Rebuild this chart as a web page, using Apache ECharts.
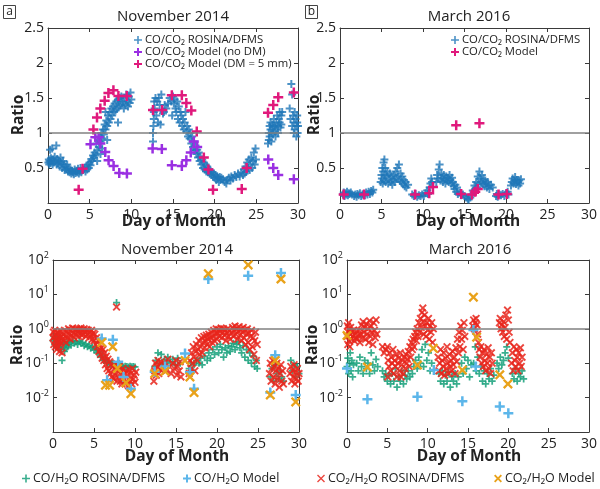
<!DOCTYPE html>
<html><head><meta charset="utf-8">
<script src="https://cdn.jsdelivr.net/npm/echarts@6/dist/echarts.min.js"></script>
<style>html,body{margin:0;padding:0;background:#fff}#c{width:600px;height:489px}</style>
</head><body><div id="c"></div>
<script>
// ---------------- data ----------------
const dayTicks = [0, 5, 10, 15, 20, 25, 30];
const linTicks = [0.5, 1, 1.5, 2, 2.5];
const logTicks = [0.01, 0.1, 1, 10, 100];

// (a) November 2014, CO/CO2
const novCOCO2Rosina = [[0.05,0.58],[0.1,0.62],[0.15,0.55],[0.2,0.6],[0.25,0.76],[0.3,0.57],[0.35,0.64],[0.4,0.6],[0.5,0.78],[0.55,0.55],[0.6,0.62],[0.7,0.58],[0.8,0.66],[0.9,0.6],[1.0,0.82],[1.05,0.55],[1.1,0.63],[1.2,0.57],[1.3,0.6],[1.4,0.52],[1.5,0.65],[1.6,0.58],[1.7,0.5],[1.8,0.6],[1.9,0.55],[2.0,0.47],[2.1,0.52],[2.2,0.48],[2.3,0.55],[2.4,0.45],[2.5,0.5],[2.6,0.44],[2.7,0.48],[2.8,0.42],[2.9,0.46],[3.0,0.44],[3.1,0.41],[3.2,0.48],[3.3,0.43],[3.4,0.46],[3.5,0.44],[3.6,0.49],[3.7,0.42],[3.8,0.45],[3.9,0.5],[4.0,0.44],[4.2,0.47],[4.4,0.5],[4.5,0.45],[4.6,0.52],[4.7,0.48],[4.8,0.55],[4.9,0.5],[5.0,0.58],[5.1,0.54],[5.2,0.63],[5.3,0.6],[5.4,0.68],[5.5,0.65],[5.6,0.72],[5.7,0.68],[5.8,0.85],[5.9,0.75],[5.9,0.6],[6.0,0.9],[6.1,0.8],[6.2,0.95],[6.3,0.88],[6.3,0.7],[6.4,1.0],[6.5,0.92],[6.5,0.78],[6.6,1.05],[6.7,0.98],[6.8,1.12],[6.9,1.05],[6.9,1.3],[7.0,1.18],[7.1,1.1],[7.1,0.9],[7.2,1.25],[7.3,1.15],[7.4,1.3],[7.5,1.2],[7.6,1.35],[7.7,1.25],[7.8,1.38],[7.9,1.3],[8.0,1.42],[8.1,1.32],[8.2,1.45],[8.3,1.35],[8.4,1.48],[8.4,1.15],[8.5,1.38],[8.6,1.5],[8.7,1.4],[8.8,1.52],[8.9,1.42],[9.0,1.45],[9.1,1.35],[9.2,1.5],[9.3,1.4],[9.4,1.55],[9.5,1.45],[9.6,1.38],[9.7,1.52],[9.8,1.43],[9.9,1.58],[10.0,1.48],
[12.6,0.88],[12.6,1.0],[12.65,1.1],[12.7,1.2],[12.7,1.3],[12.75,1.45],[12.8,1.35],[12.9,1.5],[13.0,1.25],[13.1,1.45],[13.2,1.15],[13.3,1.5],[13.4,1.4],[13.5,1.12],[13.6,1.55],[13.7,1.32],[13.8,1.28],[13.9,1.3],[14.0,1.4],[14.2,1.35],[14.4,1.42],[14.6,1.5],[14.8,1.45],[14.9,1.25],[15.0,1.52],[15.1,1.42],[15.2,1.48],[15.3,1.35],[15.4,1.3],[15.5,1.45],[15.6,1.2],[15.7,1.38],[15.8,1.15],[15.9,1.3],[16.0,1.25],[16.1,1.1],[16.2,1.2],[16.3,1.05],[16.4,1.15],[16.5,1.3],[16.6,1.02],[16.7,1.1],[16.8,0.95],[16.9,1.05],[17.0,0.92],[17.1,1.0],[17.2,0.85],[17.3,0.95],[17.4,0.8],[17.5,0.88],[17.6,0.75],[17.7,0.82],[17.8,0.7],[17.9,0.76],[18.0,0.65],[18.1,0.72],[18.2,0.6],[18.3,0.66],[18.4,0.55],[18.5,0.62],[18.6,0.5],[18.7,0.58],[18.8,0.48],[18.9,0.55],[19.0,0.45],[19.1,0.52],[19.2,0.44],[19.3,0.48],[19.4,0.42],[19.5,0.46],[19.6,0.4],[19.7,0.44],[19.8,0.38],[19.9,0.42],[20.0,0.36],[20.1,0.4],[20.2,0.33],[20.3,0.38],[20.4,0.35],[20.5,0.3],[20.6,0.37],[20.7,0.33],[20.8,0.36],[21.0,0.34],[21.2,0.3],[21.4,0.28],[21.5,0.33],[21.7,0.36],[21.9,0.32],[22.0,0.38],[22.2,0.35],[22.4,0.4],[22.6,0.37],[22.8,0.42],[23.0,0.38],[23.2,0.44],[23.4,0.4],[23.5,0.48],[23.6,0.42],[23.7,0.52],[23.8,0.45],[23.9,0.58],[24.0,0.5],[24.1,0.62],[24.2,0.47],[24.3,0.55],[24.4,0.65],[24.5,0.5],[24.6,0.6],[24.7,0.72],[24.8,0.55],[24.9,0.78],[24.95,0.62],
[26.4,0.85],[26.5,1.0],[26.5,0.9],[26.6,1.1],[26.6,0.95],[26.7,1.05],[26.7,1.15],[26.8,0.88],[26.8,1.0],[26.9,1.12],[27.0,0.98],[27.0,1.08],[27.1,1.2],[27.2,1.02],[27.2,1.1],[27.3,0.95],[27.4,1.15],[27.4,1.05],[27.5,1.25],[27.6,1.1],[27.6,1.0],[27.7,1.2],[27.8,1.15],[27.8,1.3],[27.9,1.08],[28.0,1.25],[28.0,1.12],[28.1,1.3],
[29.0,1.35],[29.1,1.2],[29.2,1.7],[29.3,1.55],[29.3,1.1],[29.4,1.25],[29.5,1.0],[29.5,1.15],[29.6,1.3],[29.6,1.05],[29.7,1.2],[29.8,1.1],[29.8,0.95],[29.9,1.15],[29.9,1.25],[30.0,1.1],[29.95,1.0]];
const novCOCO2ModelNoDM = [[5.1,0.84],[5.68,0.94],[6.07,0.94],[6.28,0.85],[6.87,0.73],[7.27,0.61],[7.87,0.53],[8.55,0.43],[9.47,0.42],[12.55,0.78],[13.66,0.77],[14.86,0.54],[16.06,0.53],[16.6,0.61],[17.13,0.72],[17.5,0.88],[17.9,0.8],[26.43,0.62],[27.03,0.5],[27.63,0.4],[29.5,0.34]];
const novCOCO2ModelDM = [[3.68,0.19],[4.15,0.49],[5.45,1.05],[5.88,1.22],[6.28,1.35],[6.8,1.46],[7.25,1.57],[7.85,1.61],[8.45,1.53],[9.45,1.53],[12.6,1.33],[13.7,1.33],[14.86,1.54],[16.06,1.54],[16.6,1.43],[17.2,1.32],[17.85,1.02],[18.7,0.65],[19.25,0.48],[19.8,0.19],[23.25,0.2],[23.84,0.5],[26.4,1.29],[27.03,1.4],[27.63,1.51],[29.5,1.58]];

// (b) March 2016, CO/CO2
const marCOCO2Rosina = [[0.35,0.12],[0.45,0.15],[0.55,0.1],[0.65,0.14],[0.75,0.12],[0.85,0.16],[0.95,0.11],[1.05,0.14],[1.15,0.13],[1.3,0.15],[1.45,0.12],[1.7,0.1],[1.85,0.12],[2.0,0.09],[2.1,0.13],[2.25,0.11],[2.4,0.14],[2.55,0.1],[2.7,0.12],[2.85,0.13],[3.0,0.11],[3.15,0.15],[3.3,0.12],[3.45,0.16],[3.6,0.13],[3.75,0.17],[3.9,0.15],[4.0,0.19],
[4.9,0.3],[5.0,0.4],[5.05,0.35],[5.1,0.5],[5.15,0.28],[5.2,0.45],[5.25,0.58],[5.3,0.32],[5.35,0.62],[5.4,0.4],[5.45,0.5],[5.5,0.3],[5.6,0.38],[5.7,0.45],[5.8,0.28],[5.9,0.35],[6.0,0.42],[6.1,0.3],[6.2,0.38],[6.3,0.26],[6.4,0.33],[6.5,0.4],[6.6,0.3],[6.7,0.45],[6.8,0.35],[6.9,0.5],[7.0,0.38],[7.1,0.55],[7.2,0.32],[7.3,0.42],[7.4,0.3],[7.5,0.38],[7.6,0.27],[7.7,0.33],[7.8,0.24],[7.9,0.3],[8.0,0.22],[8.2,0.26],
[8.7,0.12],[8.9,0.1],[9.1,0.13],[9.3,0.09],[9.5,0.11],[9.7,0.1],[9.9,0.12],[10.1,0.1],[10.3,0.14],[10.5,0.18],[10.6,0.13],[10.8,0.22],[10.9,0.28],[11.0,0.35],[11.1,0.3],
[11.6,0.3],[11.7,0.4],[11.8,0.35],[11.9,0.48],[12.0,0.55],[12.1,0.32],[12.2,0.42],[12.3,0.36],[12.4,0.3],[12.5,0.4],[12.6,0.34],[12.7,0.28],[12.8,0.38],[12.9,0.32],[13.0,0.36],[13.1,0.3],[13.2,0.4],[13.3,0.33],[13.4,0.28],[13.5,0.36],[13.6,0.3],[13.7,0.24],[13.8,0.2],[13.9,0.26],[14.0,0.16],[14.1,0.22],[14.2,0.13],[14.4,0.15],[14.6,0.11],[14.8,0.12],[15.0,0.1],[15.2,0.08],[15.4,0.06],[15.5,0.05],[15.7,0.08],
[15.9,0.12],[16.0,0.18],[16.1,0.15],[16.2,0.25],[16.3,0.2],[16.4,0.3],[16.5,0.22],[16.6,0.38],[16.7,0.28],[16.8,0.45],[16.9,0.35],[17.0,0.3],[17.1,0.4],[17.2,0.27],[17.3,0.34],[17.4,0.24],[17.5,0.32],[17.6,0.28],[17.7,0.22],[17.8,0.3],[17.9,0.25],[18.0,0.2],[18.2,0.26],[18.4,0.22],
[18.8,0.1],[18.9,0.13],[19.0,0.09],[19.2,0.12],[19.4,0.11],[19.6,0.13],[19.8,0.1],[20.0,0.14],[20.2,0.16],[20.3,0.12],
[20.6,0.25],[20.7,0.3],[20.8,0.35],[20.9,0.28],[21.0,0.32],[21.1,0.37],[21.2,0.27],[21.3,0.33],[21.4,0.3],[21.5,0.25],[21.6,0.32],[21.7,0.28],[21.8,0.34]];
const marCOCO2Model = [[0.45,0.12],[2.9,0.12],[9.05,0.12],[10.75,0.14],[11.2,0.23],[14.0,1.11],[14.6,0.13],[15.9,0.12],[16.3,0.16],[16.6,0.2],[16.8,1.14],[19.1,0.12],[20.1,0.13]];

// (c) November 2014, X/H2O (log)
const novCOH2ORosina = [[0.0,0.45],[0.1,0.6],[0.2,0.35],[0.3,0.5],[0.4,0.3],[0.5,0.55],[0.6,0.4],[0.7,0.28],[0.8,0.5],[0.9,0.35],[1.0,0.25],[1.1,0.12],[1.2,0.4],[1.3,0.3],[1.4,0.22],[1.5,0.35],[1.6,0.27],[1.7,0.4],[1.8,0.3],[1.9,0.35],[2.0,0.42],[2.2,0.33],[2.4,0.45],[2.6,0.38],[2.8,0.42],[3.0,0.35],[3.2,0.44],[3.4,0.38],[3.6,0.4],[3.8,0.32],[4.0,0.36],[4.2,0.3],[4.4,0.33],[4.6,0.27],[4.8,0.3],[5.0,0.24],[5.2,0.27],[5.4,0.2],[5.6,0.22],[5.8,0.15],[6.0,0.17],[6.2,0.12],[6.4,0.13],[6.6,0.1],[6.8,0.11],[7.0,0.09],[7.2,0.1],[7.4,0.085],[7.6,0.09],[7.8,0.08],[8.0,0.085],[8.2,0.08],[8.4,0.083],[8.6,0.078],[8.8,0.082],[9.0,0.08],[9.2,0.077],[9.4,0.082],[9.6,0.079],[9.8,0.08],[10.0,0.078],[7.75,5.8],
[12.4,0.08],[12.6,0.12],[12.8,0.2],[13.0,0.1],[13.2,0.18],[13.4,0.09],[13.6,0.13],[13.8,0.1],[14.0,0.15],[14.3,0.11],[14.6,0.13],[14.9,0.09],[15.2,0.14],[15.5,0.1],[16.6,0.07],[16.8,0.1],[17.0,0.06],[17.2,0.09],[17.5,0.12],[17.8,0.1],[18.0,0.14],[18.2,0.09],[18.5,0.16],[18.8,0.12],[19.0,0.2],[19.2,0.14],[19.5,0.25],[19.7,0.18],[20.0,0.3],[20.2,0.2],[20.4,0.35],[20.6,0.25],[20.8,0.15],[21.0,0.28],[21.2,0.2],[21.4,0.32],[21.6,0.22],[21.8,0.3],[22.0,0.38],[22.2,0.25],[22.4,0.35],[22.6,0.42],[22.8,0.28],[23.0,0.2],[23.2,0.32],[23.4,0.15],[23.6,0.25],[23.8,0.12],[24.0,0.2],[24.2,0.1],[24.4,0.16],[24.6,0.08],[24.8,0.12],[24.9,0.07],
[26.5,0.04],[26.7,0.07],[26.9,0.03],[27.1,0.09],[27.3,0.05],[27.5,0.035],[27.7,0.06],[27.9,0.04],[28.1,0.03],[29.0,0.12],[29.2,0.06],[29.4,0.09],[29.6,0.04],[29.8,0.08],[30.0,0.05]];
const novCO2H2ORosina = [[0.0,0.55],[0.05,0.8],[0.1,0.35],[0.15,0.6],[0.2,0.9],[0.25,0.45],[0.3,0.3],[0.35,0.7],[0.4,0.5],[0.45,0.25],[0.5,0.8],[0.55,0.4],[0.6,0.6],[0.65,0.3],[0.7,0.75],[0.75,0.45],[0.8,0.22],[0.85,0.55],[0.9,0.35],[0.95,0.85],[1.0,0.4],[1.05,0.6],[1.1,0.2],[1.15,0.5],[1.2,0.7],
[1.3,0.45],[1.4,0.9],[1.5,0.6],[1.6,0.4],[1.7,0.8],[1.8,0.55],[1.9,1.0],[2.0,0.7],[2.1,0.5],[2.2,0.9],[2.3,0.65],[2.4,1.05],[2.5,0.75],[2.6,0.55],[2.7,0.95],[2.8,0.7],[2.9,1.0],[3.0,0.8],[3.1,0.6],[3.2,0.95],[3.3,0.75],[3.4,1.05],[3.5,0.65],[3.6,0.9],[3.7,0.7],[3.8,1.0],[3.9,0.8],[4.0,0.6],[4.1,0.95],[4.2,0.7],[4.3,0.9],[4.4,0.55],[4.5,0.8],[4.6,0.65],[4.7,0.9],[4.8,0.5],[4.9,0.75],[5.0,0.45],[5.1,0.7],[5.2,0.35],
[5.3,0.55],[5.4,0.3],[5.5,0.45],[5.6,0.22],[5.7,0.35],[5.8,0.18],[5.9,0.28],[6.0,0.14],[6.1,0.25],[6.2,0.12],[6.3,0.2],[6.4,0.09],[6.5,0.16],[6.6,0.07],[6.7,0.13],[6.8,0.06],[6.9,0.11],[7.0,0.05],[7.1,0.09],[7.2,0.04],[7.3,0.08],[7.4,0.035],[7.5,0.07],[7.6,0.045],[7.7,0.1],[7.8,0.03],[7.9,0.06],[7.75,4.3],
[8.0,0.04],[8.1,0.08],[8.2,0.03],[8.3,0.055],[8.4,0.025],[8.5,0.07],[8.6,0.035],[8.7,0.05],[8.8,0.025],[8.9,0.06],[9.0,0.03],[9.1,0.045],[9.2,0.022],[9.3,0.065],[9.4,0.03],[9.5,0.05],[9.6,0.025],[9.7,0.07],[9.8,0.035],[9.9,0.045],[10.0,0.028],[10.1,0.055],
[12.3,0.03],[12.4,0.06],[12.5,0.1],[12.6,0.045],[12.7,0.08],[12.8,0.12],[12.9,0.05],[13.0,0.09],[13.1,0.065],[13.2,0.11],[13.4,0.07],[13.6,0.1],[13.8,0.06],[14.0,0.13],[14.2,0.08],[14.4,0.05],[14.6,0.1],[14.8,0.07],[15.0,0.12],[15.1,0.045],[15.2,0.08],[15.4,0.06],[15.5,0.11],[15.6,0.04],
[16.6,0.05],[16.7,0.12],[16.8,0.07],[16.9,0.2],[17.0,0.1],[17.1,0.3],[17.2,0.15],[17.3,0.06],[17.4,0.22],[17.5,0.35],[17.6,0.12],[17.7,0.25],[17.8,0.45],[17.9,0.18],[18.0,0.3],[18.1,0.55],[18.2,0.2],[18.3,0.4],[18.4,0.6],[18.5,0.28],[18.6,0.45],[18.7,0.65],[18.8,0.35],[18.9,0.5],[19.0,0.7],[19.1,0.3],[19.2,0.55],
[19.3,0.8],[19.4,0.4],[19.5,0.6],[19.6,0.9],[19.7,0.45],[19.8,0.7],[19.9,1.0],[20.0,0.5],[20.1,0.75],[20.2,0.95],[20.3,0.6],[20.4,0.85],[20.5,1.05],[20.6,0.55],[20.7,0.8],[20.8,1.0],[20.9,0.65],[21.0,0.9],[21.1,0.45],[21.2,0.75],[21.3,1.0],[21.4,0.6],[21.5,0.85],[21.6,0.5],
[21.8,0.8],[21.9,1.1],[22.0,0.6],[22.1,0.9],[22.2,1.2],[22.3,0.7],[22.4,1.0],[22.5,0.5],[22.6,0.85],[22.7,1.15],[22.8,0.65],[22.9,0.95],[23.0,0.45],[23.1,0.8],[23.2,1.1],[23.3,0.55],[23.4,0.9],[23.5,0.35],[23.6,0.7],[23.7,1.0],[23.8,0.4],[23.9,0.75],[24.0,0.25],[24.1,0.6],[24.2,0.9],[24.3,0.3],[24.4,0.55],[24.5,0.18],[24.6,0.45],[24.7,0.8],[24.8,0.12],[24.9,0.35],
[26.4,0.05],[26.5,0.1],[26.6,0.03],[26.7,0.07],[26.8,0.12],[26.9,0.04],[27.0,0.08],[27.1,0.025],[27.2,0.06],[27.3,0.1],[27.4,0.035],[27.5,0.07],[27.6,0.02],[27.7,0.05],[27.8,0.09],[27.9,0.03],[28.0,0.06],[28.1,0.025],
[28.9,0.05],[29.0,0.08],[29.1,0.03],[29.2,0.06],[29.3,0.04],[29.4,0.09],[29.5,0.025],[29.6,0.055],[29.7,0.035],[29.8,0.07],[29.9,0.03],[30.0,0.05]];
const novCOH2OModel = [[5.94,0.52],[7.3,0.48],[7.95,0.11],[6.6,0.032],[8.6,0.04],[9.5,0.018],[12.4,0.056],[13.66,0.08],[16.1,0.19],[16.7,0.055],[17.2,0.018],[18.94,28],[23.8,35],[26.5,0.014],[27.1,0.17],[27.8,42],[29.6,0.012]];
const novCO2H2OModel = [[5.94,0.4],[7.28,0.3],[7.85,0.07],[6.4,0.023],[6.9,0.023],[8.9,0.027],[9.5,0.013],[12.4,0.05],[13.66,0.058],[16.1,0.12],[16.7,0.04],[17.2,0.014],[18.94,40],[23.8,72],[26.5,0.012],[27.1,0.12],[27.8,28],[29.6,0.0075]];

// (d) March 2016, X/H2O (log)
const marCOH2ORosina = [[0.0,0.08],[0.1,0.14],[0.2,0.05],[0.3,0.1],[0.4,0.2],[0.5,0.06],[0.6,0.12],[0.7,0.04],[0.8,0.09],
[1.2,0.1],[1.4,0.06],[1.6,0.15],[1.8,0.08],[2.0,0.05],[2.2,0.12],[2.4,0.07],[2.6,0.1],[2.8,0.05],[3.0,0.2],[3.2,0.09],[3.4,0.06],[3.6,0.13],[3.8,0.08],
[4.4,0.06],[4.6,0.04],[4.8,0.05],[5.0,0.03],[5.2,0.045],[5.4,0.025],[5.6,0.05],[5.8,0.03],[6.0,0.07],[6.2,0.02],[6.4,0.04],[6.6,0.03],[6.8,0.06],[7.0,0.025],[7.2,0.045],[7.4,0.035],[7.6,0.06],[7.8,0.04],
[8.1,0.05],[8.3,0.08],[8.5,0.12],[8.7,0.07],[8.9,0.15],[9.1,0.1],[9.3,0.25],[9.5,0.08],[9.7,0.35],[9.9,0.12],[10.1,0.2],[10.3,0.06],[10.5,0.1],
[11.4,0.05],[11.6,0.03],[11.8,0.06],[12.0,0.025],[12.2,0.045],[12.4,0.03],[12.6,0.055],[12.8,0.02],[13.0,0.04],[13.2,0.03],[13.4,0.05],[13.6,0.025],[13.8,0.04],
[14.2,0.1],[14.4,0.05],[14.6,0.15],[14.8,0.07],[15.0,0.12],[15.2,0.04],[15.4,0.09],[15.7,0.1],[15.9,0.3],[16.0,0.06],[16.2,0.15],
[16.4,0.05],[16.6,0.08],[16.8,0.03],[17.0,0.06],[17.2,0.025],[17.4,0.05],[17.6,0.035],[17.8,0.07],[18.0,0.03],[18.2,0.045],
[18.6,0.1],[18.8,0.07],[19.0,0.15],[19.2,0.09],[19.4,0.12],[19.6,0.2],[19.8,0.3],[20.0,0.14],
[20.5,0.05],[20.7,0.035],[20.9,0.07],[21.1,0.03],[21.3,0.05],[21.5,0.04],[21.7,0.06],[21.9,0.035]];
const marCO2H2ORosina = [[0.0,0.6],[0.05,1.2],[0.1,0.35],[0.15,0.8],[0.2,1.5],[0.25,0.45],[0.3,0.9],[0.35,0.3],[0.4,0.7],[0.45,1.1],[0.5,0.5],[0.55,0.85],
[0.7,0.6],[0.8,0.9],[0.9,0.45],[1.0,0.7],[1.1,0.55],[1.2,0.85],[1.3,0.5],[1.4,0.65],[1.5,0.9],[1.6,0.4],[1.7,0.7],[1.8,1.3],[1.9,0.55],
[2.0,1.6],[2.1,0.8],[2.2,1.1],[2.3,0.5],[2.4,1.4],[2.5,0.7],[2.6,1.0],[2.7,0.4],[2.8,1.7],[2.9,0.6],[3.0,1.2],[3.1,0.8],[3.2,0.35],[3.3,1.5],[3.4,0.9],[3.5,0.55],[3.6,1.8],[3.7,0.7],
[4.4,0.3],[4.6,0.2],[4.8,0.25],[5.0,0.3],[5.06,0.04],[5.1,0.12],[5.2,0.08],[5.3,0.2],[5.4,0.06],[5.5,0.15],[5.6,0.1],[5.7,0.25],[5.8,0.05],[5.9,0.12],[6.0,0.08],[6.1,0.18],[6.2,0.04],[6.3,0.1],[6.4,0.14],[6.5,0.06],[6.6,0.2],[6.7,0.04],[6.8,0.09],[6.9,0.12],[7.0,0.05],[7.1,0.15],[7.2,0.07],[7.3,0.18],[7.4,0.1],[7.5,0.13],[7.6,0.22],[7.7,0.08],[7.8,0.3],
[7.9,0.15],[8.0,0.4],[8.1,0.25],[8.2,0.5],[8.3,0.3],[8.4,0.6],[8.5,0.8],[8.6,0.45],[8.7,1.0],[8.8,0.6],[8.9,1.5],[9.0,0.8],[9.1,2.0],[9.2,1.1],[9.3,3.0],[9.4,4.0],[9.45,1.6],[9.5,0.7],[9.6,2.5],[9.7,1.2],[9.8,0.6],[9.9,1.5],[10.0,0.9],[10.1,2.0],[10.2,0.5],[10.3,1.2],[10.4,0.8],[10.5,1.5],[10.6,0.4],[10.7,1.0],
[11.3,0.15],[11.4,0.06],[11.5,0.1],[11.6,0.25],[11.7,0.05],[11.8,0.12],[11.9,0.08],[12.0,0.2],[12.1,0.045],[12.2,0.14],[12.3,0.07],[12.4,0.3],[12.5,0.1],[12.6,0.05],[12.7,0.18],[12.8,0.08],[12.9,0.12],[13.0,0.06],[13.1,0.22],[13.2,0.09],[13.3,0.15],[13.4,0.05],[13.5,0.28],[13.6,0.11],
[13.7,0.5],[13.8,0.2],[13.9,0.8],[14.0,0.3],[14.1,1.2],[14.2,0.5],[14.3,0.9],[14.4,0.25],[14.5,1.5],[14.6,0.6],
[15.6,1.2],[15.7,1.8],[15.8,1.0],[15.9,1.5],[16.0,2.0],[16.1,1.3],[16.2,0.7],[16.3,0.4],[16.4,0.25],
[16.5,0.15],[16.6,0.3],[16.7,0.1],[16.8,0.2],[16.9,0.08],[17.0,0.25],[17.1,0.12],[17.2,0.06],[17.3,0.18],[17.4,0.1],[17.5,0.28],[17.6,0.07],[17.7,0.15],[17.8,0.05],[17.9,0.2],[18.0,0.1],
[18.9,1.5],[19.0,2.0],[19.1,1.0],[19.2,1.3],[19.3,0.8],[19.4,1.6],[19.5,0.6],[19.6,1.1],[19.7,2.5],[19.8,0.5],[19.9,3.5],[20.0,1.8],[20.1,0.8],[20.2,0.4],
[20.4,0.1],[20.5,0.2],[20.6,0.06],[20.7,0.3],[20.8,0.12],[20.9,0.08],[21.0,0.25],[21.1,0.15],[21.2,0.06],[21.3,0.2],[21.4,0.1],[21.5,0.28],[21.6,0.08],[21.7,0.15]];
const marCOH2OModel = [[0.0,0.07],[2.53,0.009],[8.73,0.0105],[10.77,0.063],[14.3,0.0078],[15.67,0.93],[15.95,0.08],[18.94,0.0055],[20.0,0.0035]];
const marCO2H2OModel = [[0.0,0.64],[2.53,0.077],[8.73,0.088],[10.7,0.27],[14.3,0.063],[15.67,8.3],[16.07,0.57],[18.94,0.046],[19.95,0.025]];

// ---------------- styling ----------------
const FONT = '"Open Sans", "Noto Sans", sans-serif';
const PLUS = 'path://M0.8,0H1.2V0.8H2V1.2H1.2V2H0.8V1.2H0V0.8H0.8Z';
const PLUS_B = 'path://M0.75,0H1.25V0.75H2V1.25H1.25V2H0.75V1.25H0V0.75H0.75Z';
const CROSS = 'path://M1.608,0.194L1.806,0.392L1.198,1L1.806,1.608L1.608,1.806L1,1.198L0.392,1.806L0.194,1.608L0.802,1L0.194,0.392L0.392,0.194L1,0.802Z';
const CROSS_B = 'path://M1.566,0.151L1.849,0.434L1.283,1L1.849,1.566L1.566,1.849L1,1.283L0.434,1.849L0.151,1.566L0.717,1L0.151,0.434L0.434,0.151L1,0.717Z';
const AX = '#3a3a3a';
const C = {blue:'#1f77b8', purple:'#9a2fe2', magenta:'#e0197c', green:'#16a07a', lblue:'#5cb6ea', red:'#e8261c', orange:'#e9a21a'};

const N = {
  coco2R: 'CO/CO₂ ROSINA/DFMS', noDM: 'CO/CO₂ Model (no DM)', dm: 'CO/CO₂ Model (DM = 5 mm)', coco2M: 'CO/CO₂ Model',
  coh2oR: 'CO/H₂O ROSINA/DFMS', coh2oM: 'CO/H₂O Model', co2h2oR: 'CO₂/H₂O ROSINA/DFMS', co2h2oM: 'CO₂/H₂O Model'
};

const grids = [
  {left:48, top:28, width:250, height:175},
  {left:340, top:28, width:253, height:175},
  {left:53, top:260, width:246, height:172},
  {left:347, top:260, width:245, height:172}
];

function xAxes(g) {
  const base = {type:'value', gridIndex:g, min:dayTicks[0], max:dayTicks[dayTicks.length-1], interval:5,
    splitLine:{show:false},
    axisLine:{show:true, onZero:false, lineStyle:{color:AX, width:1}},
    axisTick:{show:true, inside:true, length:4, lineStyle:{color:AX}}};
  return [
    Object.assign({}, base, {position:'bottom', axisLabel:{show:true, color:'#222', fontSize:14, fontFamily:FONT, margin:5}}),
    Object.assign({}, base, {position:'top', axisLabel:{show:false}})
  ];
}
function yAxesLin(g) {
  const base = {type:'value', gridIndex:g, min:0, max:linTicks[linTicks.length-1], interval:0.5,
    splitLine:{show:false},
    axisLine:{show:true, onZero:false, lineStyle:{color:AX, width:1}},
    axisTick:{show:true, inside:true, length:4, lineStyle:{color:AX}}};
  return [
    Object.assign({}, base, {position:'left', axisLabel:{show:true, color:'#222', fontSize:14, fontFamily:FONT, margin:4,
      formatter: v => linTicks.indexOf(v) >= 0 ? String(v) : ''}}),
    Object.assign({}, base, {position:'right', axisLabel:{show:false}})
  ];
}
function yAxesLog(g) {
  const base = {type:'log', logBase:10, gridIndex:g, min:0.001, max:100,
    splitLine:{show:false},
    axisLine:{show:true, onZero:false, lineStyle:{color:AX, width:1}},
    axisTick:{show:true, inside:true, length:4, lineStyle:{color:AX}}};
  return [
    Object.assign({}, base, {position:'left', axisLabel:{show:true, color:'#222', fontFamily:FONT, margin:4,
      formatter: v => {
        const hit = logTicks.find(t => Math.abs(Math.log10(t) - Math.log10(v)) < 1e-6);
        if (hit === undefined) return '';
        return '{b|10}{s|' + Math.round(Math.log10(hit)) + '}';
      },
      rich:{b:{fontSize:14, fontFamily:FONT, color:'#222', lineHeight:18}, s:{fontSize:9, fontFamily:FONT, color:'#222', lineHeight:10, verticalAlign:'top'}}}}),
    Object.assign({}, base, {position:'right', axisLabel:{show:false}})
  ];
}

const refLine = {silent:true, symbol:'none', label:{show:false}, animation:false,
  lineStyle:{color:'#808080', width:1.6, type:'solid'}, data:[{yAxis:1}]};

function sc(name, data, g, symbol, size, color, opacity, extra) {
  return Object.assign({type:'scatter', name, data, xAxisIndex:g*2, yAxisIndex:g*2, symbol, symbolSize:size,
    itemStyle:{color, opacity}, emphasis:{disabled:true}, animation:false}, extra || {});
}

const series = [
  sc(N.coco2R, novCOCO2Rosina, 0, PLUS_B, 8, C.blue, 0.8, {markLine:refLine}),
  sc(N.noDM, novCOCO2ModelNoDM, 0, PLUS_B, 10, C.purple, 1),
  sc(N.dm, novCOCO2ModelDM, 0, PLUS_B, 10, C.magenta, 1),
  sc(N.coco2R, marCOCO2Rosina, 1, PLUS_B, 8, C.blue, 0.8, {markLine:refLine}),
  sc(N.coco2M, marCOCO2Model, 1, PLUS_B, 10, C.magenta, 1),
  sc(N.coh2oR, novCOH2ORosina, 2, PLUS_B, 7, C.green, 0.85, {markLine:refLine}),
  sc(N.co2h2oR, novCO2H2ORosina, 2, CROSS_B, 8, C.red, 0.85),
  sc(N.coh2oM, novCOH2OModel, 2, PLUS_B, 10, C.lblue, 1),
  sc(N.co2h2oM, novCO2H2OModel, 2, CROSS_B, 10, C.orange, 1),
  sc(N.coh2oR, marCOH2ORosina, 3, PLUS_B, 7, C.green, 0.85, {markLine:refLine}),
  sc(N.co2h2oR, marCO2H2ORosina, 3, CROSS_B, 8, C.red, 0.85),
  sc(N.coh2oM, marCOH2OModel, 3, PLUS_B, 10, C.lblue, 1),
  sc(N.co2h2oM, marCO2H2OModel, 3, CROSS_B, 10, C.orange, 1)
];

function legend(items, left, top, orient, fs) {
  return {show:true, left, top, orient: orient || 'vertical', padding:0, itemGap:0, itemWidth:8, itemHeight:8,
    selectedMode:false, textStyle:{fontFamily:FONT, fontSize:fs || 12.5, color:'#222', lineHeight:12, padding:[0,0,0,-2]},
    data: items.map(([name, icon]) => ({name, icon}))};
}

const legends = [
  legend([[N.coco2R, PLUS], [N.noDM, PLUS_B], [N.dm, PLUS_B]], 134, 34, 'vertical', 11.3),
  legend([[N.coco2R, PLUS], [N.coco2M, PLUS_B]], 451, 34, 'vertical', 11.3),
  legend([[N.coh2oR, PLUS]], 22, 472, 'horizontal'),
  legend([[N.coh2oM, PLUS_B]], 183, 472, 'horizontal'),
  legend([[N.co2h2oR, CROSS]], 317, 472, 'horizontal'),
  legend([[N.co2h2oM, CROSS_B]], 494, 472, 'horizontal')
];

function txt(text, x, y, size, bold, rot) {
  return {type:'text', x, y, rotation: rot || 0, silent:true,
    style:{text, fill:'#222', font:(bold ? 'bold ' : '') + size + 'px ' + FONT,
      textAlign:'center', textVerticalAlign:'middle', align:'center', verticalAlign:'middle'}};
}

const graphics = [
  txt('November 2014', 173, 17, 15, false),
  txt('March 2016', 469, 17, 15, false),
  txt('November 2014', 177, 250, 15, false),
  txt('March 2016', 470, 250, 15, false),
  txt('Day of Month', 174, 222, 15.5, true),
  txt('Day of Month', 468, 222, 15.5, true),
  txt('Day of Month', 177, 457, 15.5, true),
  txt('Day of Month', 469, 457, 15.5, true),
  txt('Ratio', 19, 115, 15.5, true, Math.PI/2),
  txt('Ratio', 315, 115, 15.5, true, Math.PI/2),
  txt('Ratio', 18, 345, 15.5, true, Math.PI/2),
  txt('Ratio', 313, 345, 15.5, true, Math.PI/2),
  {type:'rect', shape:{x:3.5, y:5.5, width:12, height:13}, style:{fill:'none', stroke:'#444', lineWidth:1}, silent:true},
  txt('a', 9.5, 11.5, 12, false),
  {type:'rect', shape:{x:305.5, y:5.5, width:12, height:13}, style:{fill:'none', stroke:'#444', lineWidth:1}, silent:true},
  txt('b', 311.5, 11.5, 12, false)
];

const chart = echarts.init(document.getElementById('c'), null, {renderer:'canvas'});
chart.setOption({
  animation:false,
  backgroundColor:'#fff',
  grid: grids,
  xAxis: [].concat(xAxes(0), xAxes(1), xAxes(2), xAxes(3)),
  yAxis: [].concat(yAxesLin(0), yAxesLin(1), yAxesLog(2), yAxesLog(3)),
  legend: legends,
  graphic: graphics,
  series
});
</script></body></html>
